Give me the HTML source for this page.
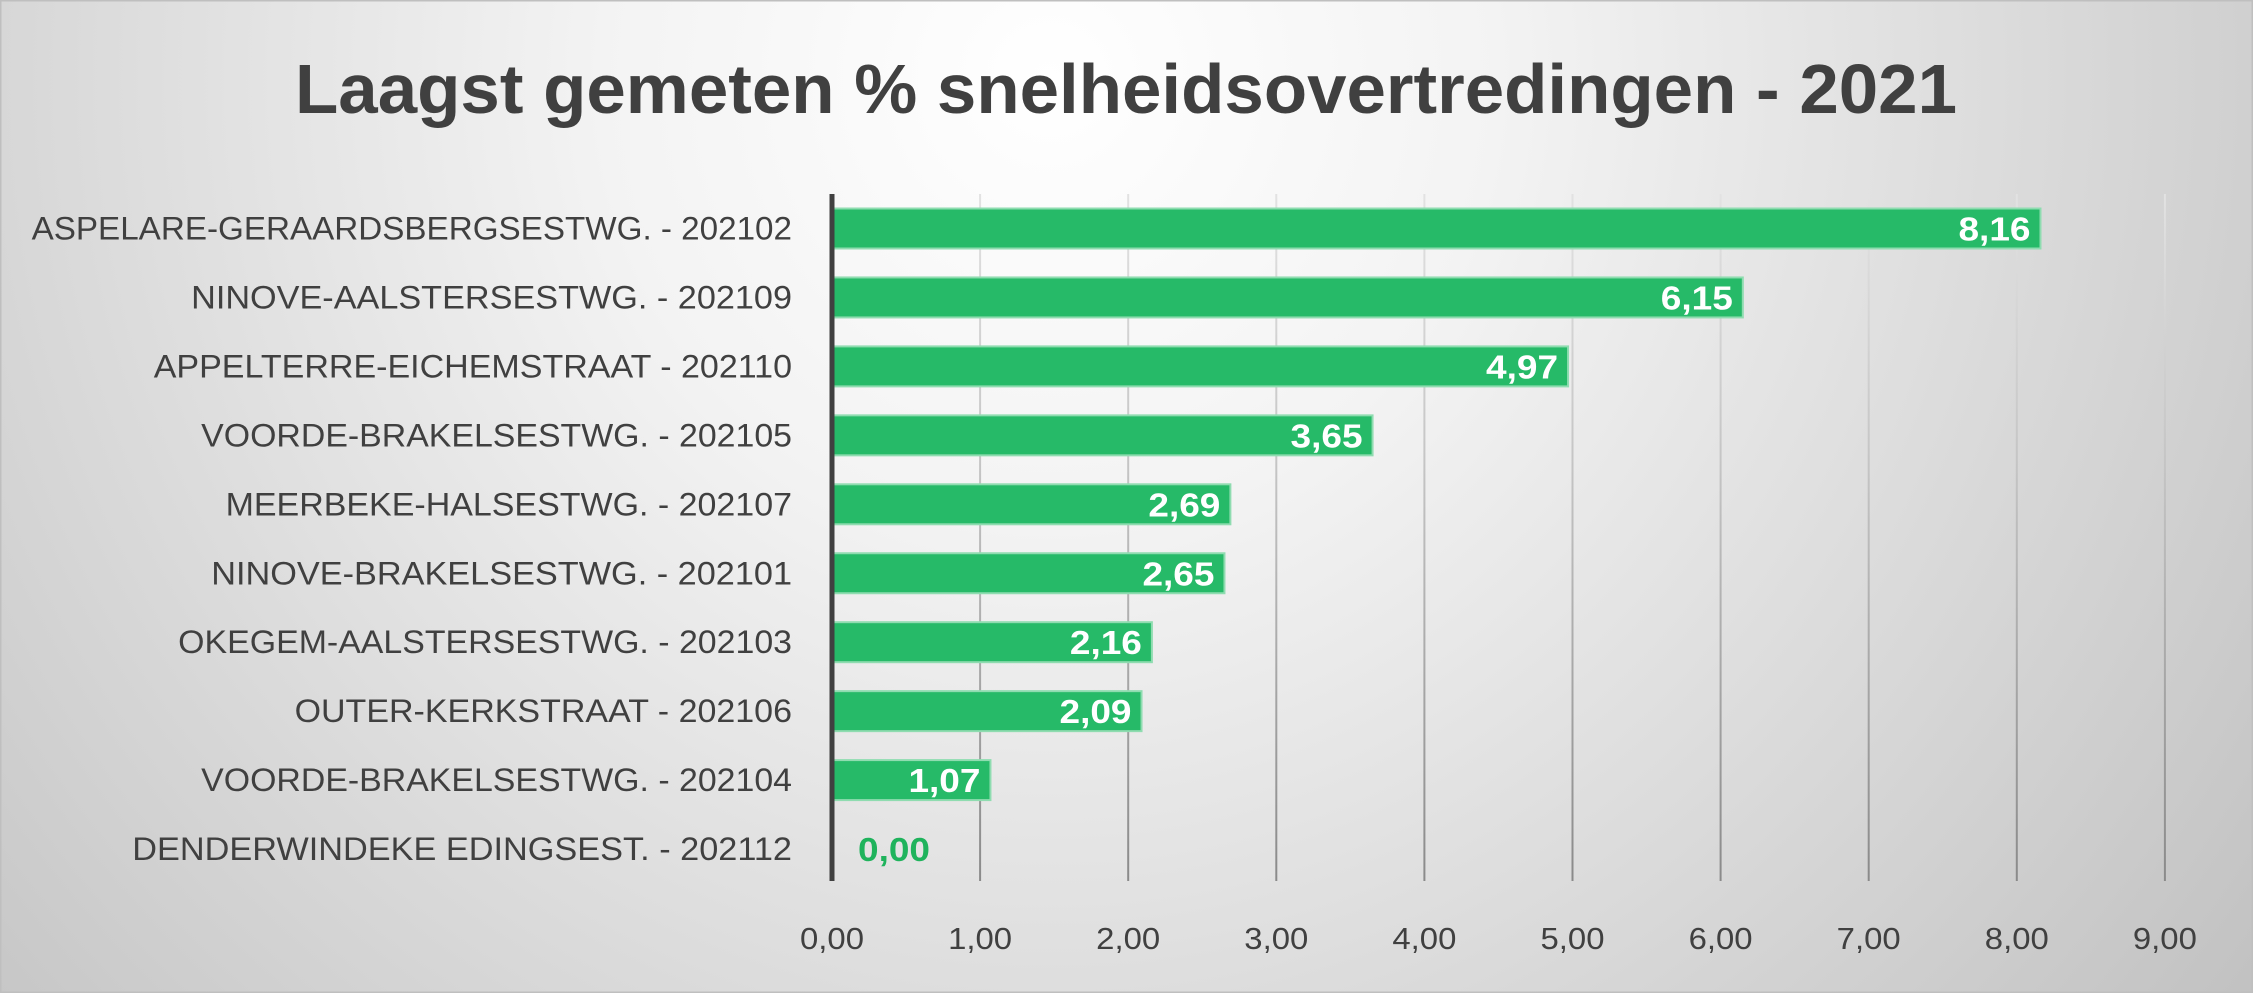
<!DOCTYPE html>
<html><head><meta charset="utf-8"><style>
html,body{margin:0;padding:0;width:2253px;height:993px;overflow:hidden}
svg{display:block}
</style></head><body>
<svg id="chart" width="2253" height="993" xmlns="http://www.w3.org/2000/svg">
<defs>
<radialGradient id="bg" gradientUnits="userSpaceOnUse" cx="1050" cy="80" r="1500">
<stop offset="0" stop-color="#ffffff"/><stop offset="0.3" stop-color="#f3f3f3"/><stop offset="0.6" stop-color="#dedede"/><stop offset="1" stop-color="#c2c2c2"/>
</radialGradient>
<linearGradient id="gl" gradientUnits="userSpaceOnUse" x1="0" y1="194" x2="0" y2="881">
<stop offset="0" stop-color="#e2e2e2"/><stop offset="0.4" stop-color="#c4c4c4"/><stop offset="1" stop-color="#8a8a8a"/>
</linearGradient>
</defs>
<rect x="0" y="0" width="2253" height="993" fill="url(#bg)" stroke="#bfbfbf" stroke-width="3"/>
<text x="1126" y="113" text-anchor="middle" font-family="Liberation Sans, sans-serif" font-weight="bold" font-size="70" fill="#404040" textLength="1662" lengthAdjust="spacingAndGlyphs">Laagst gemeten % snelheidsovertredingen - 2021</text>
<g id="grid"></g><g id="bars"></g><g id="labels"></g>
</svg>
<script>
const categories=["ASPELARE-GERAARDSBERGSESTWG. - 202102","NINOVE-AALSTERSESTWG. - 202109","APPELTERRE-EICHEMSTRAAT - 202110","VOORDE-BRAKELSESTWG. - 202105","MEERBEKE-HALSESTWG. - 202107","NINOVE-BRAKELSESTWG. - 202101","OKEGEM-AALSTERSESTWG. - 202103","OUTER-KERKSTRAAT - 202106","VOORDE-BRAKELSESTWG. - 202104","DENDERWINDEKE EDINGSEST. - 202112"];
const values=[8.16,6.15,4.97,3.65,2.69,2.65,2.16,2.09,1.07,0.00];
const ticks=[0,1,2,3,4,5,6,7,8,9];
const tickLabels=["0,00","1,00","2,00","3,00","4,00","5,00","6,00","7,00","8,00","9,00"];
const labelStarts=[22,133,107,140,157,147,124,205,140,92];
const NS="http://www.w3.org/2000/svg";
const x0=832,pxPer=148.1,yTop=194,yBot=881,y0=228.5,step=68.95,bh=40;
const X=v=>x0+v*pxPer, Y=i=>y0+i*step;
const fmt=v=>v.toFixed(2).replace('.',',');
function mk(t,a,p){const e=document.createElementNS(NS,t);for(const k in a)e.setAttribute(k,a[k]);p.appendChild(e);return e;}
const grid=document.getElementById('grid'),bars=document.getElementById('bars'),lab=document.getElementById('labels');
ticks.forEach((t,i)=>{
 if(t>0){const l=mk('rect',{x:X(t)-1,y:yTop,width:2,height:yBot-yTop,fill:'url(#gl)'},grid);
 
 }
 const tx=mk('text',{x:X(t),y:949,'text-anchor':'middle','font-family':'Liberation Sans, sans-serif','font-size':31,fill:'#404040',textLength:64,lengthAdjust:'spacingAndGlyphs'},grid);
 tx.textContent=tickLabels[i];
 
 
});
values.forEach((v,i)=>{
 const y=Y(i);
 const r=mk('rect',{x:x0,y:y-bh/2,width:Math.max(0,X(v)-x0),height:bh,fill:'#26ba68',stroke:'#8fdcb0','stroke-width':2},bars);
 
 
 const c=mk('text',{x:792,y:y+11,'text-anchor':'end','font-family':'Liberation Sans, sans-serif','font-size':32,fill:'#404040',textLength:792-labelStarts[i]*1.437,lengthAdjust:'spacingAndGlyphs'},lab);
 c.textContent=categories[i];
 
 
 const inside=v>0.5;
 const vt=mk('text',{x:inside?X(v)-10:X(v)+26,y:y+12,'text-anchor':inside?'end':'start','font-family':'Liberation Sans, sans-serif','font-weight':'bold','font-size':33,fill:inside?'#ffffff':'#1fb35c',textLength:72,lengthAdjust:'spacingAndGlyphs'},lab);
 vt.textContent=fmt(v);
 
 
});
const ax=mk('line',{x1:x0,x2:x0,y1:yTop,y2:yBot,stroke:'#404040','stroke-width':5},lab);


</script>
</body></html>
